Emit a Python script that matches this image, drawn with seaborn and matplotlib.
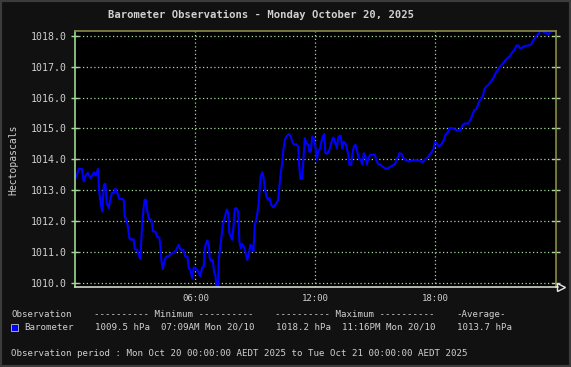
import matplotlib
matplotlib.use("Agg")
import matplotlib.pyplot as plt
import seaborn as sns
import numpy as np
from matplotlib.patches import Rectangle
from matplotlib.lines import Line2D

hours = [0.00, 0.08, 0.17, 0.33, 0.42, 0.53, 0.63, 0.75, 0.87, 0.93, 1.03, 1.13, 1.20, 1.28, 1.35, 1.43,
         1.50, 1.57, 1.67, 1.75, 1.83, 1.92, 2.00, 2.08, 2.20, 2.33, 2.42, 2.47, 2.55, 2.63, 2.70, 2.80,
         2.92, 2.97, 3.08, 3.17, 3.25, 3.28, 3.33, 3.42, 3.47, 3.53, 3.60, 3.70, 3.80, 3.89, 4.00, 4.09,
         4.20, 4.25, 4.30, 4.37, 4.47, 4.55, 4.67, 4.77, 4.89, 5.00, 5.10, 5.17, 5.25, 5.39, 5.50, 5.60,
         5.67, 5.75, 5.84, 5.92, 6.04, 6.13, 6.25, 6.33, 6.42, 6.47, 6.54, 6.60, 6.67, 6.72, 6.80, 6.87,
         6.94, 7.00, 7.05, 7.12, 7.17, 7.24, 7.30, 7.37, 7.44, 7.50, 7.57, 7.64, 7.70, 7.77, 7.84, 7.90,
         7.97, 8.05, 8.14, 8.20, 8.27, 8.34, 8.42, 8.50, 8.59, 8.67, 8.75, 8.84, 8.90, 8.97, 9.04, 9.10,
         9.17, 9.22, 9.27, 9.34, 9.40, 9.47, 9.55, 9.64, 9.70, 9.79, 9.87, 9.97, 10.05, 10.14, 10.20, 10.27,
         10.34, 10.40, 10.47, 10.55, 10.67, 10.77, 10.84, 10.94, 11.04, 11.14, 11.20, 11.25, 11.34, 11.42,
         11.47, 11.55, 11.64, 11.70, 11.77, 11.84, 11.92, 12.00, 12.07, 12.14, 12.24, 12.30, 12.37, 12.44,
         12.50, 12.59, 12.70, 12.77, 12.84, 12.90, 13.00, 13.07, 13.14, 13.20, 13.27, 13.34, 13.42, 13.50,
         13.57, 13.64, 13.70, 13.79, 13.84, 13.92, 14.00, 14.09, 14.17, 14.27, 14.34, 14.42, 14.50, 14.57,
         14.64, 14.74, 14.84, 14.97, 15.04, 15.14, 15.25, 15.37, 15.47, 15.59, 15.70, 15.84, 15.97, 16.09,
         16.20, 16.30, 16.40, 16.50, 16.67, 16.84, 17.00, 17.17, 17.34, 17.47, 17.59, 17.70, 17.80, 17.90,
         17.97, 18.07, 18.17, 18.30, 18.42, 18.50, 18.62, 18.70, 18.84, 18.97, 19.09, 19.25, 19.37, 19.50,
         19.62, 19.75, 19.84, 19.95, 20.05, 20.17, 20.29, 20.39, 20.44, 20.54, 20.67, 20.79, 20.89, 21.00,
         21.12, 21.22, 21.34, 21.47, 21.59, 21.70, 21.84, 21.95, 22.05, 22.14, 22.22, 22.34, 22.47, 22.64,
         22.77, 22.87, 22.97, 23.05, 23.17, 23.27, 23.42, 23.54, 23.64, 23.74, 23.87, 23.97]

pressure = [1013.37, 1013.50, 1013.69, 1013.69, 1013.28, 1013.50, 1013.56, 1013.40, 1013.50, 1013.58,
            1013.47, 1013.69, 1012.91, 1012.53, 1012.31, 1013.18, 1013.21, 1012.58, 1012.42, 1012.69,
            1012.91, 1012.91, 1013.05, 1012.96, 1012.71, 1012.72, 1012.69, 1012.15, 1012.04, 1011.82,
            1011.45, 1011.39, 1011.41, 1011.09, 1011.07, 1010.90, 1010.77, 1011.17, 1011.77, 1012.47,
            1012.69, 1012.69, 1012.31, 1012.04, 1012.04, 1011.66, 1011.66, 1011.50, 1011.45, 1011.20,
            1010.74, 1010.44, 1010.74, 1010.85, 1010.85, 1010.94, 1010.96, 1011.01, 1011.14, 1011.23,
            1011.07, 1011.07, 1010.85, 1010.85, 1010.47, 1010.42, 1010.15, 1010.50, 1010.45, 1010.37,
            1010.20, 1010.48, 1010.53, 1011.12, 1011.28, 1011.37, 1011.23, 1010.80, 1010.69, 1010.74,
            1010.33, 1010.26, 1009.90, 1009.50, 1010.74, 1011.12, 1011.45, 1011.88, 1012.04, 1012.20,
            1012.37, 1012.26, 1011.61, 1011.50, 1011.39, 1011.77, 1012.39, 1012.42, 1012.31, 1011.34,
            1011.12, 1011.26, 1011.17, 1011.01, 1010.74, 1010.90, 1011.23, 1011.17, 1011.01, 1011.88,
            1012.04, 1012.26, 1012.58, 1013.12, 1013.45, 1013.58, 1013.45, 1013.07, 1012.80, 1012.69,
            1012.74, 1012.53, 1012.45, 1012.50, 1012.58, 1012.69, 1013.12, 1013.56, 1013.88, 1014.31,
            1014.63, 1014.74, 1014.82, 1014.74, 1014.57, 1014.47, 1014.49, 1014.41, 1013.71, 1013.36,
            1013.39, 1014.20, 1014.69, 1014.52, 1014.47, 1014.25, 1014.25, 1014.74, 1014.69, 1014.41,
            1013.98, 1014.25, 1014.36, 1014.57, 1014.74, 1014.82, 1014.20, 1014.18, 1014.31, 1014.47,
            1014.63, 1014.71, 1014.52, 1014.36, 1014.69, 1014.76, 1014.76, 1014.36, 1014.57, 1014.52,
            1014.36, 1014.15, 1013.82, 1013.82, 1014.15, 1014.41, 1014.47, 1014.25, 1014.03, 1013.98,
            1013.84, 1014.20, 1014.09, 1013.84, 1014.03, 1014.15, 1014.15, 1014.15, 1013.98, 1013.84,
            1013.82, 1013.76, 1013.71, 1013.70, 1013.74, 1013.79, 1013.84, 1014.03, 1014.20, 1014.18,
            1014.03, 1013.98, 1013.93, 1013.96, 1013.98, 1013.96, 1013.91, 1013.98, 1014.05, 1014.15,
            1014.22, 1014.33, 1014.57, 1014.52, 1014.41, 1014.49, 1014.63, 1014.79, 1014.88, 1015.01,
            1015.01, 1014.97, 1014.94, 1014.95, 1015.12, 1015.17, 1015.15, 1015.28, 1015.44, 1015.60,
            1015.63, 1015.85, 1015.98, 1016.09, 1016.27, 1016.36, 1016.43, 1016.54, 1016.63, 1016.79,
            1016.90, 1017.00, 1017.08, 1017.19, 1017.28, 1017.33, 1017.47, 1017.55, 1017.69, 1017.69,
            1017.60, 1017.62, 1017.68, 1017.69, 1017.71, 1017.84, 1017.93, 1018.00, 1018.09, 1018.20,
            1018.12, 1018.09, 1018.05, 1018.14, 1018.16, 1018.16]

y_ticks = [1010.0, 1011.0, 1012.0, 1013.0, 1014.0, 1015.0, 1016.0, 1017.0, 1018.0]
x_ticks = [6, 12, 18]
x_tick_labels = ["06:00", "12:00", "18:00"]

title = "Barometer Observations - Monday October 20, 2025"
y_label = "Hectopascals"
stat_header = ["Observation", "---------- Minimum ----------", "---------- Maximum ----------", "-Average-"]
series_name = "Barometer"
stat_values = ["1009.5 hPa", "07:09AM Mon 20/10", "1018.2 hPa", "11:16PM Mon 20/10", "1013.7 hPa"]
period_text = "Observation period : Mon Oct 20 00:00:00 AEDT 2025 to Tue Oct 21 00:00:00 AEDT 2025"

sns.set_theme(style="dark")
plt.rcParams['font.family'] = ['DejaVu Sans Mono', 'DejaVu Sans']

W, H = 571, 367
fig = plt.figure(figsize=(W / 100, H / 100), dpi=100)
fig.patch.set_facecolor('#111111')

def fx(px):
    return px / W

def fy(py):
    return 1 - py / H

ax = fig.add_axes([fx(75.3), fy(286.7), fx(555.5) - fx(75.3), fy(31) - fy(286.7)])
ax.set_facecolor('black')

sns.lineplot(x=hours, y=pressure, ax=ax, color='#0000ff', linewidth=1.5, estimator=None)

ax.set_xlim(0, 24)
ax.set_ylim(1009.87, 1018.16)
ax.set_xticks(x_ticks)
ax.set_xticklabels(x_tick_labels)
ax.set_yticks(y_ticks)
ax.set_yticklabels([f"{v:.1f}" for v in y_ticks])
ax.set_xlabel("")
ax.set_ylabel("")

grid_col = '#a8d8a0'
ax.grid(True, color=grid_col, linestyle=(0, (1, 2)), linewidth=0.9)
ax.tick_params(axis='x', colors=grid_col, direction='inout', length=5, width=1,
               labelcolor='#d0d0d0', labelsize=6.5, pad=3)
ax.tick_params(axis='y', colors=grid_col, direction='inout', length=6, width=1,
               labelcolor='#d0d0d0', labelsize=7.1, pad=3, right=True, left=True)
ax.spines['left'].set_color('#a0d890')
ax.spines['bottom'].set_color('#d0d8c8')
ax.spines['top'].set_color('#8a8a48')
ax.spines['right'].set_color('#8a8a48')
for s in ax.spines.values():
    s.set_visible(True)
    s.set_linewidth(1.2)

# arrow at end of x axis
fig.add_artist(Line2D([fx(555.5), fx(558)], [fy(287), fy(287)], color='#d0d8c8', lw=1.2))
fig.add_artist(Line2D([fx(561)], [fy(287)], marker='>', markersize=5.5, mfc='none',
                      mec='#e8e8e8', mew=1.0, linestyle='none'))

txt = '#d0d0d0'
fig.text(fx(261.5), fy(15), title, ha='center', va='center', fontsize=7.6,
         fontweight='bold', color=txt)
fig.text(fx(13), fy(160), y_label, ha='center', va='center', rotation=90,
         fontsize=7.0, color=txt)

fs = 6.6
fig.text(fx(11), fy(314.3), stat_header[0], ha='left', va='center', fontsize=fs, color=txt)
fig.text(fx(94.3), fy(314.3), stat_header[1], ha='left', va='center', fontsize=fs, color=txt)
fig.text(fx(275.3), fy(314.3), stat_header[2], ha='left', va='center', fontsize=fs, color=txt)
fig.text(fx(456), fy(314.3), stat_header[3], ha='left', va='center', fontsize=fs, color=txt)

fig.add_artist(Rectangle((fx(11), fy(331)), fx(7), fy(324) - fy(331), facecolor='#0000ff',
                         edgecolor='#c0c0c0', linewidth=0.6, transform=fig.transFigure))
fig.text(fx(24.3), fy(327.3), series_name, ha='left', va='center', fontsize=fs, color=txt)
for xpos, s in zip([95, 161, 276, 341.7, 456.7], stat_values):
    fig.text(fx(xpos), fy(327.3), s, ha='left', va='center', fontsize=fs, color=txt)

fig.text(fx(11), fy(353.3), period_text, ha='left', va='center', fontsize=fs, color=txt)

fig.add_artist(Rectangle((0, 0), 1, 1, facecolor='none', edgecolor='#3c3c3c',
                         linewidth=3, transform=fig.transFigure))

fig.savefig('out.png', dpi=100, facecolor=fig.get_facecolor())
